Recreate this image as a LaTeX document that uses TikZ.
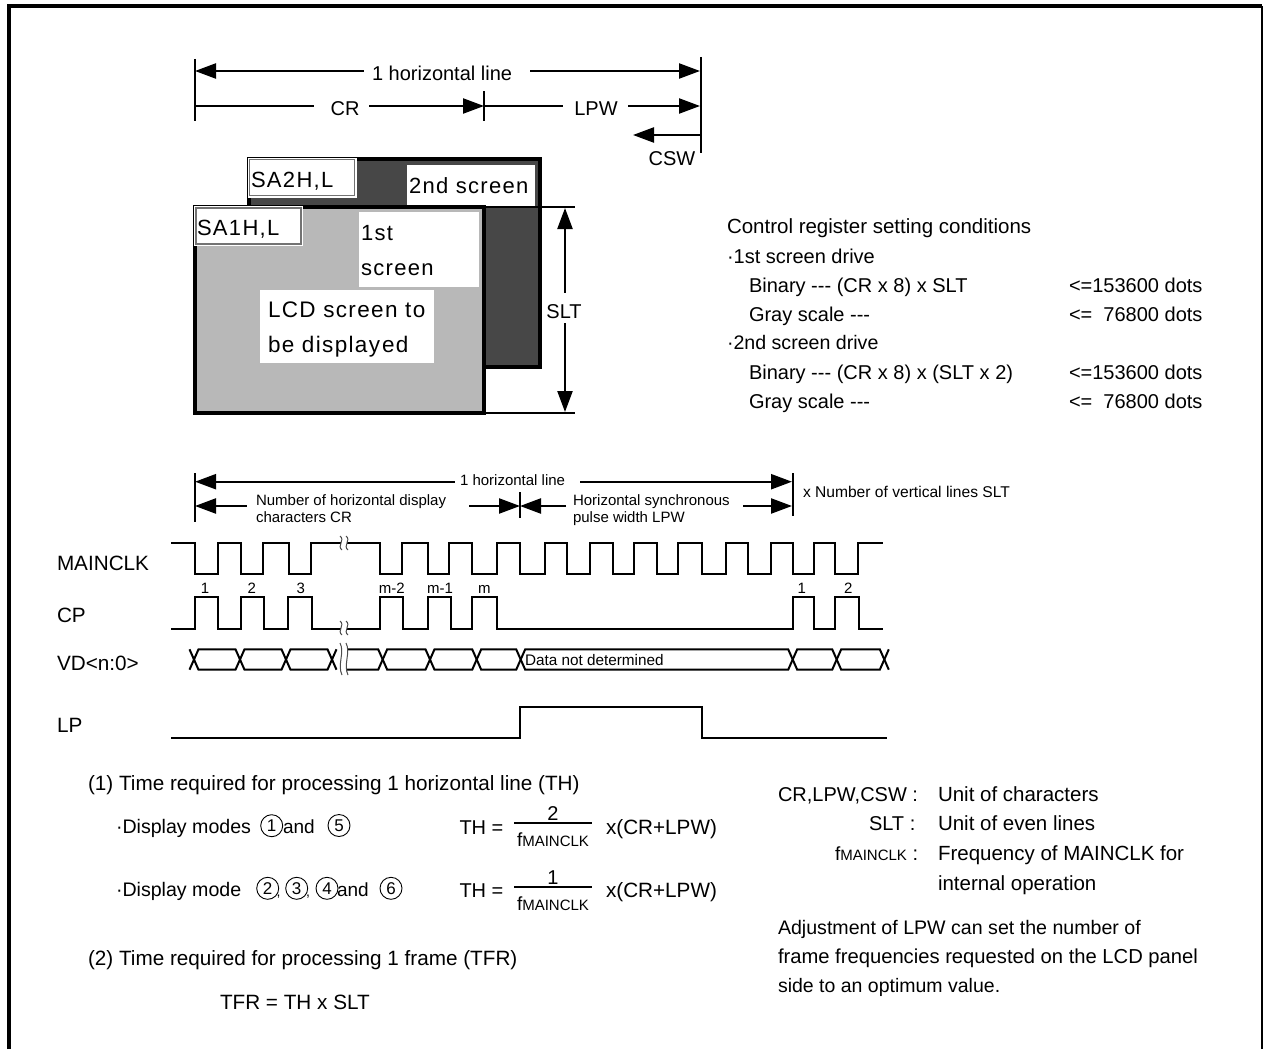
\documentclass[tikz,border=0pt]{standalone}
\usepackage{fontspec}
\setmainfont{Liberation Sans}
\newfontfamily\widefont[LetterSpace=6]{Liberation Sans}
\usetikzlibrary{arrows.meta}
\newcommand\fsz[1]{\fontsize{#1}{#1}\selectfont}
\newcommand\fclk{{\fsz{19}f\fsz{15}MAINCLK}}
\tikzset{
  x=1pt,y=-1pt,
  every node/.style={inner sep=0pt,outer sep=0pt,text=black},
  txt/.style={anchor=base west,font=\fsz{20}},
  txtb/.style={anchor=base west,font=\fsz{20.7}},
  txtc/.style={anchor=base,font=\fsz{20}},
  small/.style={anchor=base west,font=\fsz{15}},
  num/.style={anchor=base,font=\fsz{15}},
  wide/.style={anchor=base west,font=\widefont\fsz{22}},
  wave/.style={line width=2.2pt,line join=miter,line cap=butt},
  brk/.style={line width=1pt,black!70},
  dim/.style={line width=2.3pt},
  tipE/.style={dim,-{Triangle[length=21pt,width=15pt]}},
  tipS/.style={dim,{Triangle[length=21pt,width=15pt]}-},
  tick/.style={line width=2.3pt},
  whitebox/.style={fill=white,anchor=north west},
  sabox/.style={fill=white,draw=black!55,line width=1.1pt,anchor=north west},
  circ/.style={circle,draw,line width=0.9pt,minimum size=22pt,font=\fsz{17}},
}
\begin{document}
\begin{tikzpicture}
\useasboundingbox (0,0) rectangle (1263,1049);
\fill[white] (0,0) rectangle (1263,1049);
% frame
\coordinate (fbl) at (9,1049); \coordinate (ftl) at (9,6); \coordinate (ftr) at (1262,6); \coordinate (fbr) at (1262,1049);
\draw[line width=4pt,line join=miter] (fbl) -- (ftl) -- (ftr);
\draw[line width=3pt] (ftr) -- (fbr);

% ---- upper dimension lines
\coordinate (t1a) at (195,59); \coordinate (t1b) at (195,121);
\coordinate (t2a) at (484,91); \coordinate (t2b) at (484,121);
\coordinate (t3a) at (701,57); \coordinate (t3b) at (701,153);
\draw[tick] (t1a) -- (t1b); \draw[tick] (t2a) -- (t2b); \draw[tick] (t3a) -- (t3b);
\node[txt] (hl) at (372,81) {1 horizontal line};
\coordinate (a1l) at (195,71); \coordinate (a1m) at (364,71); \coordinate (a1n) at (530,71); \coordinate (a1r) at (700,71);
\draw[tipS] (a1l) -- (a1m); \draw[tipE] (a1n) -- (a1r);
\node[txtc] (cr) at (345,115) {CR};
\coordinate (a2l) at (195,106); \coordinate (a2m) at (314,106); \coordinate (a2n) at (369,106); \coordinate (a2r) at (484,106);
\draw[dim] (a2l) -- (a2m); \draw[tipE] (a2n) -- (a2r);
\node[txtc] (lpw) at (596,115) {LPW};
\coordinate (a3m) at (563,106); \coordinate (a3n) at (628,106); \coordinate (a3r) at (700,106);
\draw[dim] (a2r) -- (a3m); \draw[tipE] (a3n) -- (a3r);
\coordinate (a4r) at (701,135); \coordinate (a4l) at (633,135);
\draw[tipE] (a4r) -- (a4l);
\node[txtc] (csw) at (672,165) {CSW};

% ---- screens
\path[fill=black!72] (249,159) rectangle (540,367);
\draw[line width=4pt,line join=miter] (249,159) rectangle (540,367);
\node[whitebox,minimum width=128pt,minimum height=41pt] (w2) at (407,165) {};
\path[fill=white] (248,158) rectangle (357,198);
\node[sabox,minimum width=105pt,minimum height=36pt] (sa2) at (249.5,159.5) {};
\node[wide] (sa2t) at (251,187) {SA2H,L};
\node[wide] (s2t) at (409,193) {2nd screen};
\draw[line width=3.2pt,fill=black!28,line join=miter] (195,207) rectangle (484,413);
\path[fill=white] (194,206) rectangle (303,246);
\node[sabox,minimum width=105pt,minimum height=36pt] (sa1) at (196,208) {};
\node[wide] (sa1t) at (197,235) {SA1H,L};
\node[whitebox,minimum width=120pt,minimum height=75pt] (w1) at (359,212) {};
\node[wide] (s1a) at (361,240) {1st};
\node[wide] (s1b) at (361,275) {screen};
\node[whitebox,minimum width=174pt,minimum height=73pt] (w3) at (260,290) {};
\node[wide,font=\widefont\fsz{22.5}] (lcd1) at (268,317) {LCD screen to};
\node[wide,font=\widefont\fsz{22.5}] (lcd2) at (268,352) {be display\kern2pt ed};
% SLT
\coordinate (s1) at (484,207); \coordinate (s1e) at (575,207);
\coordinate (s2) at (484,413); \coordinate (s2e) at (575,413);
\draw[line width=2.3pt] (s1) -- (s1e); \draw[line width=2.3pt] (s2) -- (s2e);
\coordinate (sa) at (565,208); \coordinate (sb) at (565,293);
\coordinate (sc) at (565,323); \coordinate (sd) at (565,412);
\draw[tipS] (sa) -- (sb); \draw[tipE] (sc) -- (sd);
\node[txtc] (slt) at (564,318) {SLT};

% ---- conditions
\node[txt,font=\fsz{20.5}] (c1) at (727,233) {Control register setting conditions};
\node[txt] (c2) at (727,263) {·1st screen drive};
\node[txt] (c3) at (749,292) {Binary -{}-{}- (CR x 8) x SLT};
\node[txt] (c3r) at (1069,292) {<=153600 dots};
\node[txt] (c4) at (749,321) {Gray scale -{}-{}-};
\node[txt] (c4r) at (1069,321) {<=\ \ 76800 dots};
\node[txt,font=\fsz{19.6}] (c5) at (727,349.5) {·2nd screen drive};
\node[txt] (c6) at (749,379) {Binary -{}-{}- (CR x 8) x (SLT x 2)};
\node[txt] (c6r) at (1069,379) {<=153600 dots};
\node[txt] (c7) at (749,408.5) {Gray scale -{}-{}-};
\node[txt] (c7r) at (1069,408.5) {<=\ \ 76800 dots};

% ---- timing dimension lines
\coordinate (u1a) at (195,473); \coordinate (u1b) at (195,522);
\coordinate (u2a) at (520,492); \coordinate (u2b) at (520,518);
\coordinate (u3a) at (793,473); \coordinate (u3b) at (793,516);
\draw[tick] (u1a) -- (u1b); \draw[tick] (u2a) -- (u2b); \draw[tick] (u3a) -- (u3b);
\node[small] (uh) at (460,485) {1 horizontal line};
\coordinate (ua) at (195,481.7); \coordinate (ub) at (455,481.7); \coordinate (uc) at (580,481.7); \coordinate (ud) at (792,481.7);
\draw[tipS] (ua) -- (ub); \draw[tipE] (uc) -- (ud);
\coordinate (va) at (195,506); \coordinate (vb) at (247,506); \coordinate (vc) at (469,506); \coordinate (vd) at (520,506);
\coordinate (ve) at (566,506); \coordinate (vf) at (743,506); \coordinate (vg) at (792,506);
\draw[tipS] (va) -- (vb); \draw[tipE] (vc) -- (vd); \draw[tipE] (ve) -- (vd); \draw[tipE] (vf) -- (vg);
\node[small] (n1) at (256,505) {Number of horizontal display};
\node[small] (n2) at (256,522.7) {characters CR};
\node[small] (n3) at (573,505) {Horizontal synchronous};
\node[small] (n4) at (573,522.7) {pulse width LPW};
\node[small,font=\fsz{15.6}] (n5) at (803,497.7) {x Number of vertical lines SLT};

% ---- signal names
\node[txtb] (lmc) at (57,570.3) {MAINCLK};
\node[txtb] (lcp) at (57,622) {CP};
\node[txtb] (lvd) at (57,670) {VD<n:0>};
\node[txtb] (llp) at (57,732) {LP};

% ---- MAINCLK
\def\H{542.7}\def\L{574.3}
\draw[wave] (171,\H)-|(195,\L)-|(217.7,\H)-|(241,\L)-|(262.7,\H)-|(289,\L)-|(310.7,\H)--(341,\H);
\draw[wave] (347,\H)-|(380,\L)-|(402,\H)-|(428.3,\L)-|(449,\H)-|(472,\L)-|(496.7,\H)-|(520,\L)-|(545,\H)-|(567,\L)-|(590,\H)-|(613.3,\L)-|(634,\H)-|(656.7,\L)-|(678.3,\H)-|(701.7,\L)-|(726,\H)-|(748.3,\L)-|(770.7,\H)-|(792.7,\L)-|(814,\H)-|(835,\L)-|(858.3,\H)--(882.7,\H);
% ---- CP
\def\H{596.7}\def\L{628.7}
\draw[wave] (171,\L)-|(195,\H)-|(218.3,\L)-|(241,\H)-|(264,\L)-|(288.3,\H)-|(312.3,\L)--(341,\L);
\draw[wave] (347,\L)-|(380,\H)-|(403.3,\L)-|(428.3,\H)-|(451,\L)-|(472,\H)-|(496.7,\L)-|(792.7,\H)-|(814,\L)-|(835,\H)-|(859.3,\L)--(882.7,\L);
\foreach \xx/\tt in {205/1,251.7/2,300.7/3,391.7/m-2,440/m-1,484.3/m,801.7/1,848.3/2}
  \node[num] at (\xx,593.7) {\tt};
% ---- VD
\def\T{649.3}\def\B{669.7}\def\M{659.5}
\foreach \a/\b in {194/240,240/286,286/332,382.7/430,430/476.7,476.7/520.7,520.7/792.7,792.7/836.7,836.7/884.3}
  \draw[wave,line width=2pt] (\a,\M) -- ({\a+4.5},\T) -- ({\b-4.5},\T) -- (\b,\M) -- ({\b-4.5},\B) -- ({\a+4.5},\B) -- cycle;
\draw[wave,line width=2pt] (189.5,\T) -- (194,\M) -- (189.5,\B);
\draw[wave,line width=2pt] (888.8,\T) -- (884.3,\M) -- (888.8,\B);
\draw[wave,line width=2pt] (336.5,\T) -- (332,\M) -- (336.5,\B);
\draw[wave,line width=2pt] (347,\T) -- (378.2,\T) -- (382.7,\M) -- (378.2,\B) -- (347,\B);
\node[small,font=\fsz{15.3}] (dnd) at (525,665.7) {Data not determined};
% ---- breaks
\foreach \xx in {341,347}{
  \draw[brk] (\xx-1,536) .. controls (\xx+4.5,540) and (\xx-4.5,546) .. (\xx+1,550);
  \draw[brk] (\xx-1,621) .. controls (\xx+4.5,625) and (\xx-4.5,631) .. (\xx+1,635);
  \draw[brk] (\xx-1,643) .. controls (\xx+4,652) and (\xx-4,665) .. (\xx+1,675);
}
% ---- LP
\draw[wave] (171,737.7)-|(520,707)-|(702,737.7)--(887,737.7);

% ---- formulas
\node[txtb] (f1) at (88,790.5) {(1) Time required for processing 1 horizontal line (TH)};
\node[txt,font=\fsz{19.6}] (f2) at (116,833) {·Display modes};
\node[circ] (m1) at (271.7,825.7) {1};
\node[txt,font=\fsz{19}] (f3) at (283,833) {and};
\node[circ] (m5) at (339,825.5) {5};
\node[txt,font=\fsz{19.6}] (f4) at (116,896) {·Display mode};
\node[circ] (m2) at (267.7,888.3) {2};
\node[txt,font=\fsz{14}] (cm1) at (276.5,896) {,};
\node[circ] (m3) at (296.7,888.3) {3};
\node[txt,font=\fsz{14}] (cm2) at (306,896) {,};
\node[circ] (m4) at (327,888.3) {4};
\node[txt,font=\fsz{19}] (f5) at (337,896) {and};
\node[circ] (m6) at (391,888.3) {6};
\node[txt] (e1) at (459.5,834) {TH =};
\node[txtc] (e1n) at (553,820) {2};
\coordinate (e1a) at (514,822.7); \coordinate (e1b) at (592,822.7);
\draw[line width=1.6pt] (e1a) -- (e1b);
\node[anchor=base] (e1d) at (553,846.7) {\fclk};
\node[txtb] (e1r) at (606,834) {x(CR+LPW)};
\node[txt] (e2) at (459.5,897) {TH =};
\node[txtc] (e2n) at (553,884) {1};
\coordinate (e2a) at (514,886.7); \coordinate (e2b) at (592,886.7);
\draw[line width=1.6pt] (e2a) -- (e2b);
\node[anchor=base] (e2d) at (553,910) {\fclk};
\node[txtb] (e2r) at (606,897) {x(CR+LPW)};
\node[txtb] (f6) at (88,965.5) {(2) Time required for processing 1 frame (TFR)};
\node[txtb] (f7) at (220,1009) {TFR = TH x SLT};

% ---- notes
\node[txt] (r1) at (778,801.7) {CR,LPW,CSW :};
\node[txt,font=\fsz{20.5}] (r1b) at (938,801.7) {Unit of characters};
\node[txt] (r2) at (869,830.7) {SLT :};
\node[txt,font=\fsz{20.5}] (r2b) at (938,830.7) {Unit of even lines};
\node[anchor=base west] (r3) at (835,860.7) {\fclk\fsz{20}\ :};
\node[txt,font=\fsz{20.5}] (r3b) at (938,860.7) {Frequency of MAINCLK for};
\node[txt,font=\fsz{20.5}] (r4b) at (938,890) {internal operation};
\node[txt,font=\fsz{19.6}] (r5) at (778,934.3) {Adjustment of LPW can set the number of};
\node[txt,font=\fsz{20.2}] (r6) at (778,963.3) {frame frequencies requested on the LCD panel};
\node[txt,font=\fsz{19.5}] (r7) at (778,992.7) {side to an optimum value.};
\end{tikzpicture}
\end{document}
